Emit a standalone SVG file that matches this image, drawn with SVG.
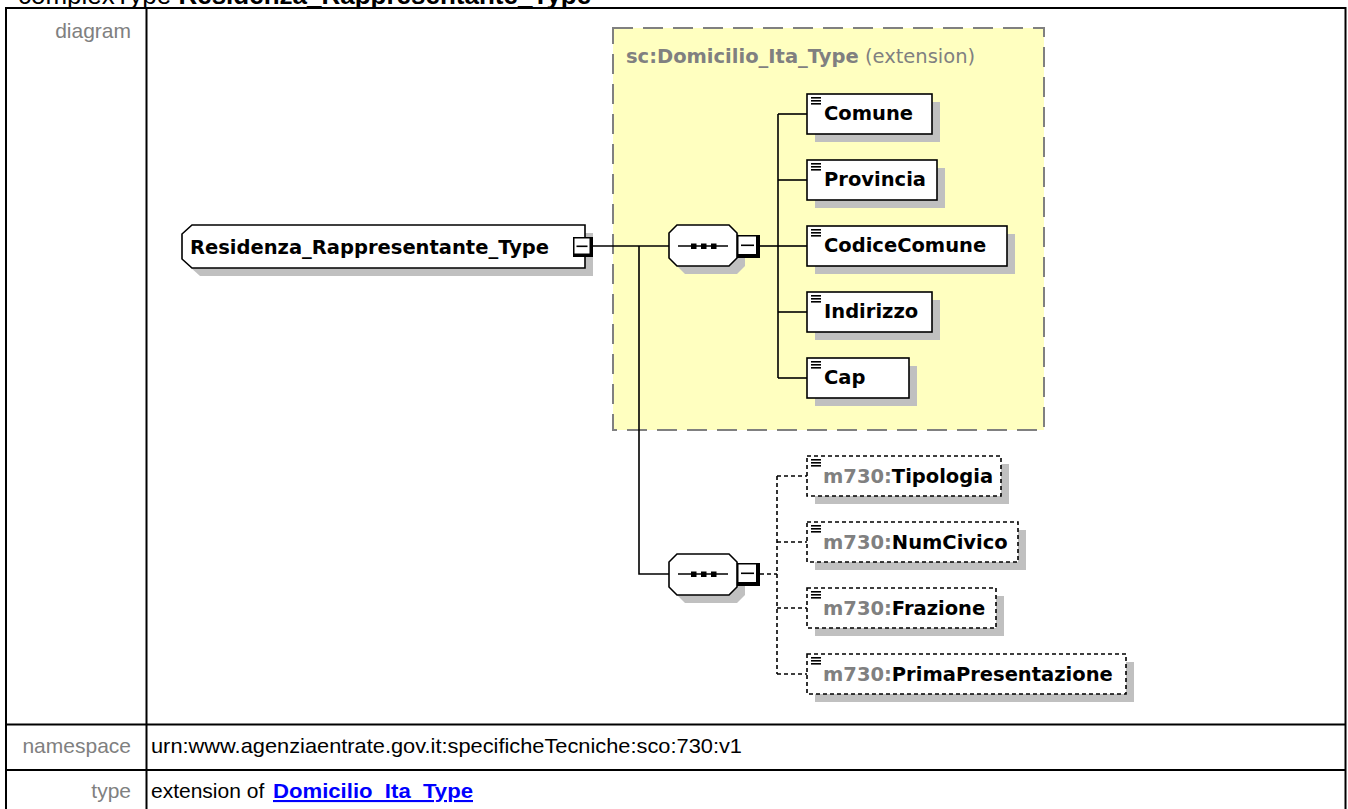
<svg xmlns="http://www.w3.org/2000/svg" xmlns:xlink="http://www.w3.org/1999/xlink" width="1348" height="809" viewBox="0 0 1348 809">
<style>
.lbl{font-family:"DejaVu Sans",Verdana,sans-serif;font-weight:bold;font-size:19.5px;fill:#000}
.ns{fill:#808080}
.ext{font-weight:normal;fill:#808080}
.tbl{font-family:"Liberation Sans",Arial,sans-serif;font-size:21px;fill:#000}
.hdr{fill:#808080}
.link{font-weight:bold;fill:#0000ff;text-decoration:underline}
.box{fill:#fff;stroke:#000;stroke-width:1.6}
.dbox{fill:#fff;stroke:#000;stroke-width:1.6;stroke-dasharray:4 3}
.sh{fill:#c0c0c0}
.conn{stroke:#000;stroke-width:1.6;fill:none}
.dconn{stroke:#000;stroke-width:1.6;fill:none;stroke-dasharray:4 3}
.grid{stroke:#000;stroke-width:2;fill:none}
</style>
<defs>
<g id="icon"><rect x="0" y="0" width="10" height="1.6" fill="#000"/><rect x="0" y="3" width="10" height="1.6" fill="#000"/><rect x="0" y="6" width="10" height="1.6" fill="#000"/></g>
<g id="minus23"><rect x="0" y="0" width="23" height="23" fill="#000"/><rect x="1.5" y="1.5" width="17.5" height="17.5" fill="#fff"/><rect x="4" y="9.5" width="13" height="1.6" fill="#000"/></g>
<g id="minus19"><rect x="0" y="0" width="20" height="20" fill="#000"/><rect x="1.5" y="1.5" width="15" height="15" fill="#fff"/><rect x="3.5" y="8.5" width="11" height="1.6" fill="#000"/></g>
<g id="seqicon"><line x1="9" y1="21" x2="59" y2="21" stroke="#000" stroke-width="1.6"/><rect x="22" y="18.5" width="5.5" height="5.5" fill="#000"/><rect x="32" y="18.5" width="5.5" height="5.5" fill="#000"/><rect x="42" y="18.5" width="5.5" height="5.5" fill="#000"/></g>
</defs>

<text x="18" y="4" font-family="Liberation Sans,Arial,sans-serif" font-size="26" fill="#000">complexType <tspan font-weight="bold">Residenza_Rappresentante_Type</tspan></text>

<g id="table">
<rect class="grid" x="6" y="8" width="1339.5" height="810"/>
<line class="grid" x1="146.5" y1="8" x2="146.5" y2="809"/>
<line class="grid" x1="6" y1="724.5" x2="1345.5" y2="724.5"/>
<line class="grid" x1="6" y1="770" x2="1345.5" y2="770"/>
<text class="tbl hdr" x="131" y="38" text-anchor="end">diagram</text>
<text class="tbl hdr" x="131" y="753" text-anchor="end">namespace</text>
<text class="tbl hdr" x="131" y="798" text-anchor="end">type</text>
<text class="tbl" x="151" y="753" textLength="591" lengthAdjust="spacingAndGlyphs">urn:www.agenziaentrate.gov.it:specificheTecniche:sco:730:v1</text>
<text class="tbl" x="151" y="798">extension of </text>
<text class="tbl link" x="273" y="798" textLength="200" lengthAdjust="spacingAndGlyphs">Domicilio_Ita_Type</text>
</g>

<g id="ext-Domicilio_Ita_Type">
<rect x="613" y="28" width="431" height="402" fill="#ffffc0" stroke="#808080" stroke-width="2" stroke-dasharray="20 10"/>
<text class="lbl" x="626" y="63"><tspan class="ns">sc:Domicilio_Ita_Type</tspan><tspan class="ext"> (extension)</tspan></text>
</g>

<g id="connectors">
<line class="conn" x1="592" y1="246" x2="669" y2="246"/>
<polyline class="conn" points="639,246 639,574 669,574"/>
<line class="conn" x1="760" y1="246" x2="778" y2="246"/>
<line class="conn" x1="778" y1="114" x2="778" y2="378"/>
<line class="conn" x1="778" y1="114" x2="807" y2="114"/>
<line class="conn" x1="778" y1="180" x2="807" y2="180"/>
<line class="conn" x1="778" y1="246" x2="807" y2="246"/>
<line class="conn" x1="778" y1="312" x2="807" y2="312"/>
<line class="conn" x1="778" y1="378" x2="807" y2="378"/>
<line class="dconn" x1="760" y1="574" x2="777" y2="574"/>
<line class="dconn" x1="777" y1="476" x2="777" y2="674"/>
<line class="dconn" x1="777" y1="476" x2="807" y2="476"/>
<line class="dconn" x1="777" y1="542" x2="807" y2="542"/>
<line class="dconn" x1="777" y1="608" x2="807" y2="608"/>
<line class="dconn" x1="777" y1="674" x2="807" y2="674"/>
</g>

<g id="root">
<polygon class="sh" points="200,233 593,233 593,276 200,276 190,267 190,242"/>
<polygon class="box" points="192,225 585,225 585,268 192,268 182,259 182,234"/>
<text class="lbl" x="190" y="254">Residenza_Rappresentante_Type</text>
<use xlink:href="#minus19" x="573" y="237"/>
</g>

<g id="seq1">
<polygon class="sh" points="685,233 737,233 745,241 745,266 737,274 685,274 677,266 677,241"/>
<polygon class="box" points="677,225 729,225 737,233 737,258 729,266 677,266 669,258 669,233"/>
<use xlink:href="#seqicon" x="669" y="225"/>
<use xlink:href="#minus23" x="737" y="235"/>
</g>

<g id="seq2">
<polygon class="sh" points="685,562 737,562 745,570 745,595 737,603 685,603 677,595 677,570"/>
<polygon class="box" points="677,554 729,554 737,562 737,587 729,595 677,595 669,587 669,562"/>
<use xlink:href="#seqicon" x="669" y="553"/>
<use xlink:href="#minus23" x="737" y="563"/>
</g>

<g id="Comune">
<rect class="sh" x="815" y="102" width="125" height="40"/>
<rect class="box" x="807" y="94" width="125" height="40"/>
<use xlink:href="#icon" x="811" y="97"/>
<text class="lbl" x="824" y="120">Comune</text>
</g>
<g id="Provincia">
<rect class="sh" x="815" y="168" width="130" height="40"/>
<rect class="box" x="807" y="160" width="130" height="40"/>
<use xlink:href="#icon" x="811" y="163"/>
<text class="lbl" x="824" y="186">Provincia</text>
</g>
<g id="CodiceComune">
<rect class="sh" x="815" y="234" width="200" height="40"/>
<rect class="box" x="807" y="226" width="200" height="40"/>
<use xlink:href="#icon" x="811" y="229"/>
<text class="lbl" x="824" y="252">CodiceComune</text>
</g>
<g id="Indirizzo">
<rect class="sh" x="815" y="300" width="125" height="40"/>
<rect class="box" x="807" y="292" width="125" height="40"/>
<use xlink:href="#icon" x="811" y="295"/>
<text class="lbl" x="824" y="318">Indirizzo</text>
</g>
<g id="Cap">
<rect class="sh" x="815" y="366" width="102" height="40"/>
<rect class="box" x="807" y="358" width="102" height="40"/>
<use xlink:href="#icon" x="811" y="361"/>
<text class="lbl" x="824" y="384">Cap</text>
</g>

<g id="Tipologia">
<rect class="sh" x="815" y="464" width="194" height="40"/>
<rect class="dbox" x="807" y="456" width="194" height="40"/>
<use xlink:href="#icon" x="811" y="459"/>
<text class="lbl" x="823" y="483"><tspan class="ns">m730:</tspan>Tipologia</text>
</g>
<g id="NumCivico">
<rect class="sh" x="815" y="530" width="211" height="40"/>
<rect class="dbox" x="807" y="522" width="211" height="40"/>
<use xlink:href="#icon" x="811" y="525"/>
<text class="lbl" x="823" y="549"><tspan class="ns">m730:</tspan>NumCivico</text>
</g>
<g id="Frazione">
<rect class="sh" x="815" y="596" width="189" height="40"/>
<rect class="dbox" x="807" y="588" width="189" height="40"/>
<use xlink:href="#icon" x="811" y="591"/>
<text class="lbl" x="823" y="615"><tspan class="ns">m730:</tspan>Frazione</text>
</g>
<g id="PrimaPresentazione">
<rect class="sh" x="815" y="662" width="319" height="40"/>
<rect class="dbox" x="807" y="654" width="319" height="40"/>
<use xlink:href="#icon" x="811" y="657"/>
<text class="lbl" x="823" y="681"><tspan class="ns">m730:</tspan>PrimaPresentazione</text>
</g>
</svg>
